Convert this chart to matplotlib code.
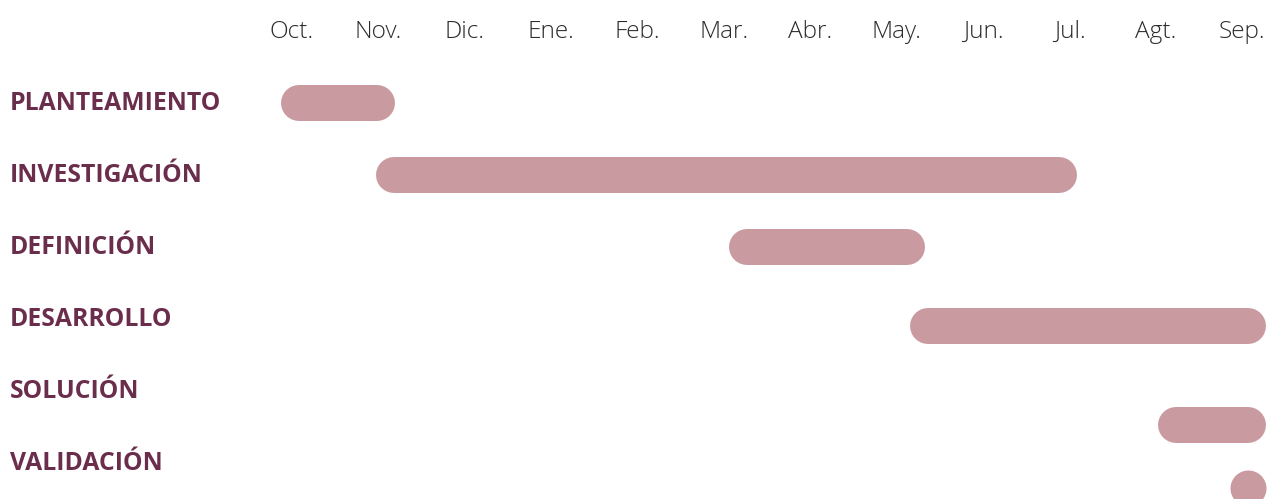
import matplotlib.pyplot as plt
import matplotlib.transforms as mtransforms

# months along the top (Spanish abbreviations)
months = ["Oct.", "Nov.", "Dic.", "Ene.", "Feb.", "Mar.", "Abr.", "May.", "Jun.", "Jul.", "Agt.", "Sep."]

# phases and their span, in months from October (centre line of the pill)
phases = ["PLANTEAMIENTO", "INVESTIGACIÓN", "DEFINICIÓN", "DESARROLLO", "SOLUCIÓN", "VALIDACIÓN"]
start = [0.08, 1.18, 5.27, 7.36, 10.23, 11.06]
end = [0.98, 8.88, 7.12, 11.06, 11.06, 11.06]
# row where each bar sits (the last ones drift down in the original)
bar_row = [0.03, 1.03, 2.03, 3.12, 4.5, 5.38]

bar_color = "#C99BA1"
label_color = "#6B2D4C"
month_color = "#2b2b2b"

fig = plt.figure(figsize=(12.69, 4.99), dpi=100)
ax = fig.add_axes([0, 0, 1, 1])
ax.set_xlim(-292 / 86.4, (1269 - 292) / 86.4)
ax.set_ylim((499 - 101) / 72, -101 / 72)
ax.axis("off")

lw = 36 * 72 / 100  # pill height 36 px in points
for s, e, r in zip(start, end, bar_row):
    if e - s > 0.01:
        ax.plot([s, e], [r, r], color=bar_color, lw=lw, solid_capstyle="round")
    else:
        ax.plot([s], [r], "o", ms=lw, mec="none", mfc=bar_color)

# phase names on the left
trans = mtransforms.blended_transform_factory(ax.transAxes, ax.transData)
for i, name in enumerate(phases):
    ax.text(10 / 1269, i + 0.04, name, transform=trans, ha="left", va="center",
            fontsize=17.8, fontweight="bold", family=["Open Sans", "DejaVu Sans"],
            color=label_color)

# month labels at the top
for i, m in enumerate(months):
    ax.text(i, -69 / 72, m, ha="center", va="center", fontsize=17.6,
            fontweight="light", family=["Open Sans", "DejaVu Sans"], color=month_color)

fig.savefig("out.png", dpi=100)
